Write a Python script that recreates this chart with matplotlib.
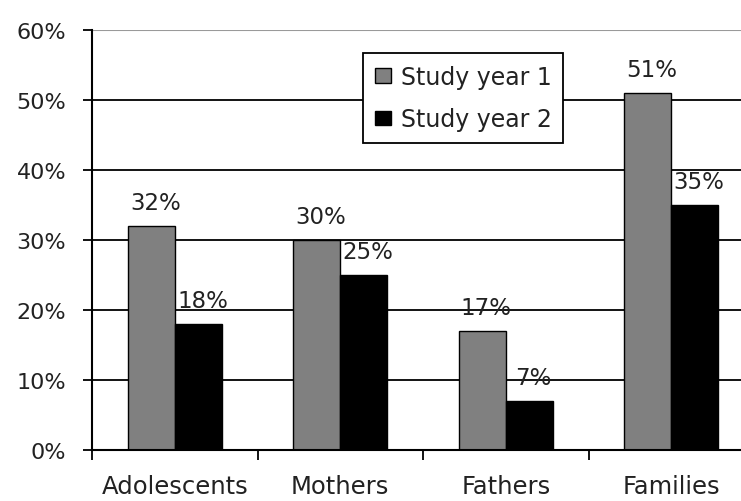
import matplotlib
matplotlib.use("Agg")
import matplotlib.pyplot as plt
from matplotlib.patches import Patch
import numpy as np

groups = ["Adolescents", "Mothers", "Fathers", "Families"]
year1 = [32, 30, 17, 51]
year2 = [18, 25, 7, 35]
series_names = ["Study year 1", "Study year 2"]
yticks = [0, 10, 20, 30, 40, 50, 60]

plt.rcParams["font.family"] = ["DejaVu Sans"]
TXT = "#222222"

W, H = 741, 502
fig = plt.figure(figsize=(W / 100, H / 100), dpi=100)
# plot area runs past the right edge of the picture, as in the original
ax = fig.add_axes([92 / W, 1 - 451 / H, 662 / W, 420 / H])

x = np.arange(len(groups))
bw = 0.285
ax.bar(x - bw / 2, year1, bw, color="#808080", edgecolor="black", linewidth=1, zorder=3)
ax.bar(x + bw / 2, year2, bw, color="black", edgecolor="black", linewidth=1, zorder=3)

for xs, vals in ((x - bw / 2, year1), (x + bw / 2, year2)):
    for xi, v in zip(xs, vals):
        ax.annotate(f"{v}%", (xi, v), xytext=(3, 12), textcoords="offset points",
                    ha="center", va="baseline", fontsize=16.5, color=TXT, zorder=4)

for t in yticks[1:-1]:
    ax.axhline(t, color="black", linewidth=1.3, zorder=1)
ax.axhline(60, color="#9a9a9a", linewidth=1.5, zorder=1)

ax.set_xlim(-0.5, 3.5)
ax.set_ylim(0, 60)
ax.set_yticks(yticks, [f"{t}%" for t in yticks])
ax.set_xticks(x, groups)
ax.set_xticks(np.arange(-0.5, 4.0, 1.0), minor=True)
ax.tick_params(axis="x", which="major", length=0, pad=17, labelsize=17.5, labelcolor=TXT)
ax.tick_params(axis="x", which="minor", length=7, width=1.3, direction="out", color="black")
ax.tick_params(axis="y", length=6.5, width=1.3, pad=12, labelsize=16, labelcolor=TXT)

for side in ("top", "right"):
    ax.spines[side].set_visible(False)
for side in ("left", "bottom"):
    ax.spines[side].set_linewidth(1.5)
    ax.spines[side].set_zorder(5)

handles = [Patch(facecolor="#808080", edgecolor="black"),
           Patch(facecolor="black", edgecolor="black")]
leg = ax.legend(handles, series_names, loc="upper left",
                bbox_to_anchor=(363 / W, 1 - 54 / H), bbox_transform=fig.transFigure,
                fontsize=17, frameon=True, fancybox=False, framealpha=1,
                edgecolor="black", handlelength=0.68, handleheight=0.55,
                handletextpad=0.42, borderpad=0.5, labelspacing=0.78,
                borderaxespad=0)
leg.get_frame().set_linewidth(1.3)
leg.set_zorder(6)
for t in leg.get_texts():
    t.set_color(TXT)

fig.savefig("out.png", dpi=100)
